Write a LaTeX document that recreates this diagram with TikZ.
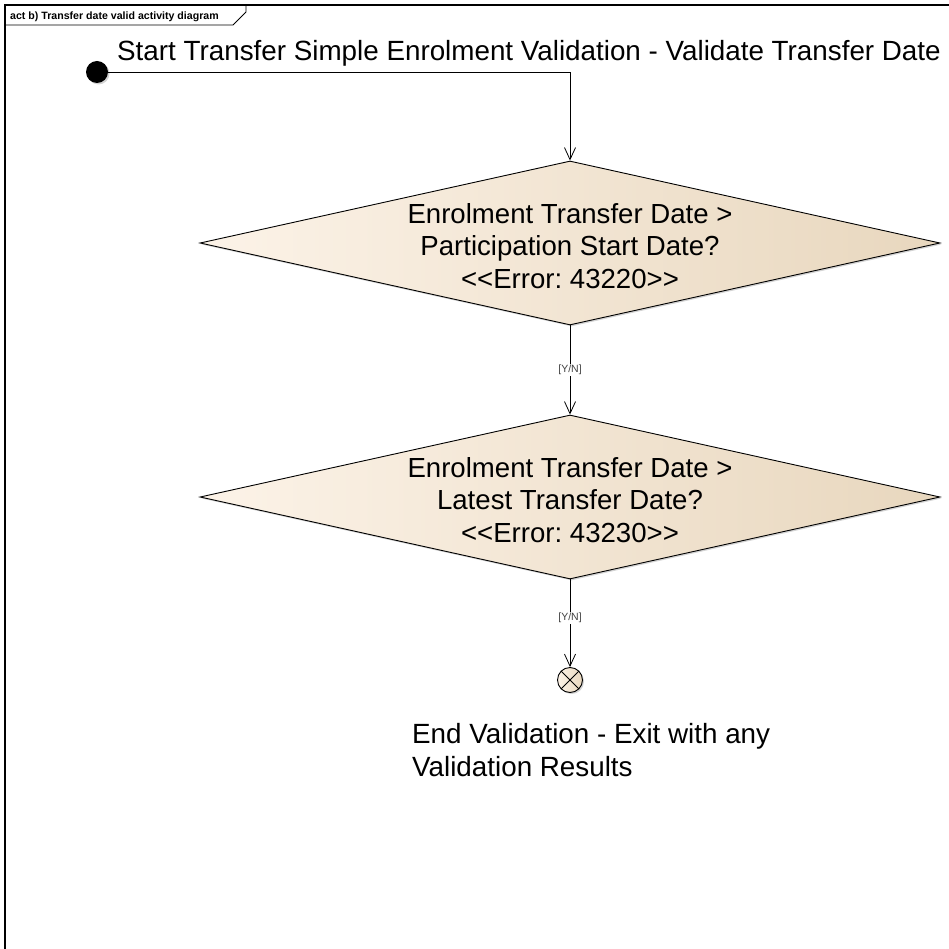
\documentclass[tikz,border=0pt]{standalone}
\usepackage{fontspec}
\setmainfont{Liberation Sans}
\usetikzlibrary{arrows.meta,positioning,shapes.geometric,shadows}
\definecolor{dialeft}{RGB}{252,243,232}
\definecolor{diaright}{RGB}{232,215,190}
\newcommand{\lt}{<\kern0pt<}
\newcommand{\gt}{>\kern0pt>}
\frenchspacing
\tikzset{
  decision/.style={diamond,draw=black,line width=0.9pt,left color=dialeft,right color=diaright,
    minimum width=740pt,minimum height=164pt,inner sep=0pt,
    drop shadow={shadow xshift=1.5pt,shadow yshift=-1.5pt,opacity=0.35}},
  decisiontext/.style={align=center,anchor=base,inner sep=0pt,font=\fontsize{27.6}{32.5}\selectfont},
  bigtext/.style={anchor=base west,inner sep=0pt,font=\fontsize{27.8}{33}\selectfont},
  flow/.style={line width=0.8pt,-{Straight Barb[length=12pt,width=11pt,line width=0.8pt]}},
  guard/.style={fill=white,inner sep=1pt,font=\fontsize{10.5}{11}\selectfont,text=black!75}
}
\begin{document}
\begin{tikzpicture}[x=1pt,y=-1pt]
\useasboundingbox (0,0) rectangle (948,949);
\draw[line width=1.2pt] (5,970) -- (5,5) -- (970,5);
\draw[line width=0.8pt] (5,25) -- (233,25) -- (246,12) -- (246,5);
\node[anchor=base west,inner sep=0pt,font=\bfseries\fontsize{10.6}{11}\selectfont] (framelabel) at (10,20) {act b) Transfer date valid activity diagram};

\node[circle,fill=black,minimum size=22pt,inner sep=0pt,
  drop shadow={shadow xshift=1.5pt,shadow yshift=-1.5pt,opacity=0.35}] (start) at (97,72) {};
\node[bigtext] (startlabel) at (117,61) {Start Transfer Simple Enrolment Validation - Validate Transfer Date};
\coordinate (bend) at (570,72);

\node[decision] (datecheck) at (570,243) {};
\node[decisiontext] (datechecktext) at (570,288) {Enrolment Transfer Date >\\Participation Start Date?\\\lt Error: 43220\gt};

\node[decision] (latestcheck) at (570,497) {};
\node[decisiontext] (latestchecktext) at (570,542) {Enrolment Transfer Date >\\Latest Transfer Date?\\\lt Error: 43230\gt};

\node[circle,draw=black,line width=0.9pt,minimum size=25pt,inner sep=0pt,
  left color=dialeft,right color=diaright,
  drop shadow={shadow xshift=1.5pt,shadow yshift=-1.5pt,opacity=0.35},
  path picture={\draw[line width=0.9pt] (path picture bounding box.north west) -- (path picture bounding box.south east)
    (path picture bounding box.north east) -- (path picture bounding box.south west);}] (finish) at (570,680) {};
\node[bigtext,align=left] (finishlabel) at (412,776) {End Validation - Exit with any\\Validation Results};

\draw[flow] (start) -- (bend) -- (datecheck.north);
\draw[flow] (datecheck.south) -- node[guard] {[Y/N]} (latestcheck.north);
\draw[flow] (latestcheck.south) -- node[guard,pos=0.44] {[Y/N]} (finish.north);
\end{tikzpicture}
\end{document}
